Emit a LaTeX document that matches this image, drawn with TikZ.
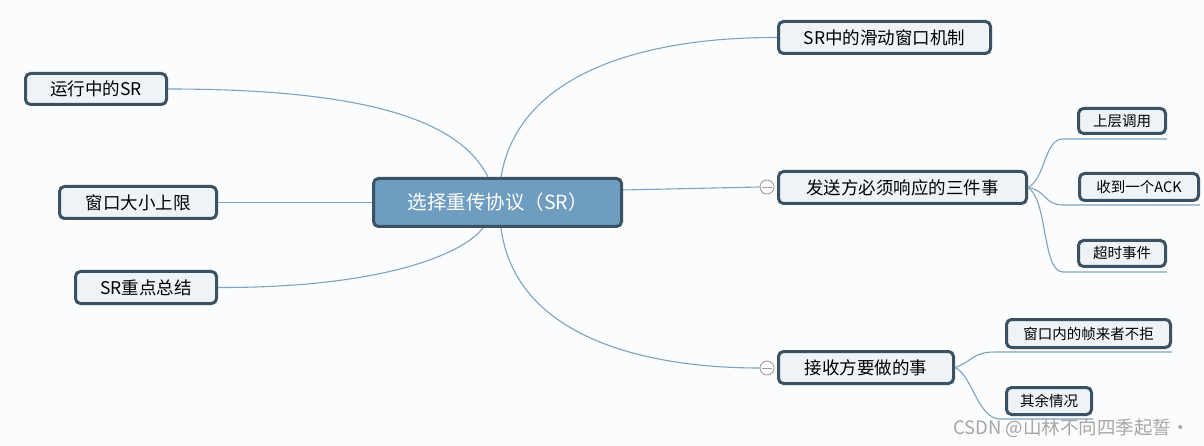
\documentclass[tikz,border=0pt]{standalone}
\usepackage{fontspec}
\setmainfont{Noto Sans CJK SC}
\definecolor{bg}{HTML}{FBFCFD}
\definecolor{bord}{HTML}{3C5162}
\definecolor{cfill}{HTML}{6F9DC0}
\definecolor{sfill}{HTML}{EEF3F7}
\definecolor{conn}{HTML}{7FA3BF}
\begin{document}
\begin{tikzpicture}[x=1pt,y=-1pt,
  topic/.style={draw=bord,line width=3pt,rounded corners=5pt,fill=sfill,inner sep=0pt,font=\fontsize{17.5}{20}\selectfont,text=black},
  subt/.style={draw=bord,line width=3pt,rounded corners=5pt,fill=sfill,inner sep=0pt,font=\fontsize{14.5}{17}\selectfont,text=black},
  centr/.style={draw=bord,line width=3pt,rounded corners=5pt,fill=cfill,inner sep=0pt,font=\fontsize{19.5}{22}\selectfont,text=white},
  link/.style={draw=conn,line width=1.1pt},
  collapse/.style={circle,draw=gray!75,line width=0.9pt,fill=white,minimum size=14pt,inner sep=0pt}]
\fill[bg] (0,0) rectangle (1204,446);
\useasboundingbox (0,0) rectangle (1204,446);
\coordinate (sendcc) at (767,187);
\coordinate (recvcc) at (767,368);
% nodes
\node[centr,minimum width=248pt,minimum height=48pt] (c) at (497.5,202.5) {选择重传协议（SR）};
\node[topic,minimum width=212pt,minimum height=32pt] (slide) at (884.5,37.5) {SR中的滑动窗口机制};
\node[topic,minimum width=141pt,minimum height=31pt] (run) at (96,89) {运行中的SR};
\node[topic,minimum width=157pt,minimum height=32pt] (win) at (138,202.5) {窗口大小上限};
\node[topic,minimum width=141pt,minimum height=32pt] (sum) at (146,287.5) {SR重点总结};
\node[topic,minimum width=248pt,minimum height=32pt] (send) at (902.5,187.5) {发送方必须响应的三件事};
\node[topic,minimum width=175pt,minimum height=32pt] (recv) at (866,367.5) {接收方要做的事};
\node[subt,minimum width=87pt,minimum height=25pt] (up) at (1122,121) {上层调用};
\node[subt,minimum width=119pt,minimum height=27pt] (ack) at (1139,187) {收到一个ACK};
\node[subt,minimum width=87pt,minimum height=26pt] (to) at (1122,253.5) {超时事件};
\node[subt,minimum width=164pt,minimum height=28pt] (wr) at (1088.5,333.5) {窗口内的帧来者不拒};
\node[subt,minimum width=85pt,minimum height=27pt] (rest) at (1049,401) {其余情况};
\node[collapse] (sendc) at (sendcc) {};
\node[collapse] (recvc) at (recvcc) {};
\draw[gray!75,line width=0.9pt] ([xshift=2.5pt]sendc.west) -- ([xshift=-2.5pt]sendc.east);
\draw[gray!75,line width=0.9pt] ([xshift=2.5pt]recvc.west) -- ([xshift=-2.5pt]recvc.east);
% main connectors
\draw[link] ([xshift=3.5pt]c.north) .. controls (518,75) and (640,37) .. (slide.west);
\draw[link] (run.east) .. controls (380,89) and (462,125) .. ([xshift=-9.5pt]c.north);
\draw[link] (win.east) -- (c.west);
\draw[link] (sum.east) .. controls (380,288) and (462,255) .. ([xshift=-14.5pt]c.south);
\draw[link] ([yshift=12.5pt]c.east) -- (sendc.west);
\draw[link] ([xshift=3.5pt]c.south) .. controls (515,335) and (640,368) .. (recvc.west);
% sub connectors
\coordinate (upL) at (1063,139);
\coordinate (ackL) at (1063,205);
\coordinate (toL) at (1063,272);
\coordinate (wrL) at (995,352);
\coordinate (restL) at (1000,419);
\draw[link] (send.east) .. controls (1046,178) and (1044,139) .. (upL) -- (up.south east |- upL);
\draw[link] (send.east) .. controls (1046,190) and (1044,205) .. (ackL) -- (ack.south east |- ackL);
\draw[link] (send.east) .. controls (1048,200) and (1042,272) .. (toL) -- (to.south east |- toL);
\draw[link] (recv.east) .. controls (972,362) and (972,352) .. (wrL) -- (wr.south east |- wrL);
\draw[link] (recv.east) .. controls (972,375) and (978,419) .. (restL) -- (rest.south east |- restL);
% watermark
\node[anchor=west,inner sep=0pt,text=black!35,font=\fontsize{18.5}{20}\selectfont] (wm) at (953,428) {CSDN @山林不向四季起誓·};
\end{tikzpicture}
\end{document}
